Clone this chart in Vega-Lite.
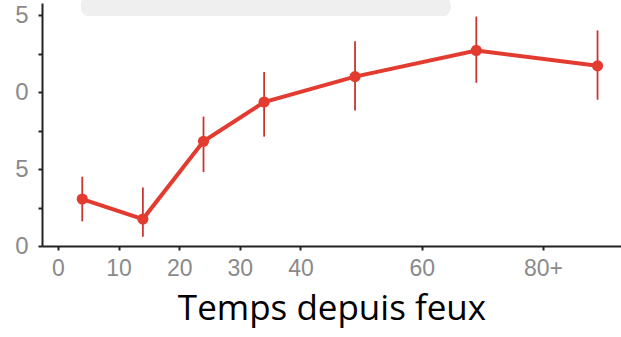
{
  "$schema": "https://vega.github.io/schema/vega-lite/v6.json",
  "autosize": {"type": "none"},
  "width": 579,
  "height": 243,
  "padding": {"left": 42, "top": 3, "right": 0, "bottom": 91},
  "background": "white",
  "config": {"view": {"stroke": null}},
  "data": {"values": [
    {"t": 4, "mean": 3.05, "lo": 1.6, "hi": 4.5},
    {"t": 14, "mean": 1.75, "lo": 0.6, "hi": 3.8},
    {"t": 24, "mean": 6.8, "lo": 4.8, "hi": 8.4},
    {"t": 34, "mean": 9.35, "lo": 7.1, "hi": 11.3},
    {"t": 49, "mean": 11.0, "lo": 8.8, "hi": 13.3},
    {"t": 69, "mean": 12.7, "lo": 10.6, "hi": 14.9},
    {"t": 89, "mean": 11.7, "lo": 9.5, "hi": 14.0}
  ]},
  "layer": [
    {
      "mark": {"type": "rect", "color": "#efefef", "cornerRadius": 8, "clip": false},
      "encoding": {
        "x": {"datum": 3.8, "type": "quantitative"},
        "x2": {"datum": 64.7},
        "y": {"datum": 16.2, "type": "quantitative"},
        "y2": {"datum": 14.94}
      }
    },
    {
      "mark": {"type": "rule", "color": "#c8372f", "strokeWidth": 1.8},
      "encoding": {
        "x": {"field": "t", "type": "quantitative"},
        "y": {"field": "lo", "type": "quantitative"},
        "y2": {"field": "hi"}
      }
    },
    {
      "mark": {"type": "line", "color": "#e43b30", "strokeWidth": 4},
      "encoding": {
        "x": {"field": "t", "type": "quantitative"},
        "y": {"field": "mean", "type": "quantitative"}
      }
    },
    {
      "mark": {"type": "point", "filled": true, "color": "#e43b30", "size": 125, "opacity": 1},
      "encoding": {
        "x": {
          "field": "t", "type": "quantitative",
          "scale": {"domain": [-2.64, 92.87], "nice": false, "zero": false},
          "axis": {
            "values": [0, 10, 20, 30, 40, 60, 80],
            "labelExpr": "datum.value == 80 ? '80+' : datum.label",
            "grid": false,
            "domainColor": "#222", "domainWidth": 2,
            "tickColor": "#222", "tickWidth": 2, "tickSize": 4,
            "labelFont": "Liberation Sans", "labelFontSize": 23, "labelColor": "#8a8a8a",
            "labelPadding": 7,
            "title": "Temps depuis feux",
            "titleFont": "Open Sans", "titleFontSize": 35, "titleFontWeight": "normal",
            "titleColor": "#000", "titlePadding": 11
          }
        },
        "y": {
          "field": "mean", "type": "quantitative",
          "scale": {"domain": [0, 15.78], "nice": false},
          "axis": {
            "values": [0, 2.5, 5, 7.5, 10, 12.5, 15],
            "labelExpr": "datum.value % 5 == 0 ? '' + (datum.value % 10) : ''",
            "grid": false,
            "domainColor": "#222", "domainWidth": 2,
            "tickColor": "#222", "tickWidth": 2, "tickSize": 4,
            "labelFont": "Liberation Sans", "labelFontSize": 24, "labelColor": "#8a8a8a",
            "labelPadding": 10,
            "title": null
          }
        }
      }
    }
  ]
}
